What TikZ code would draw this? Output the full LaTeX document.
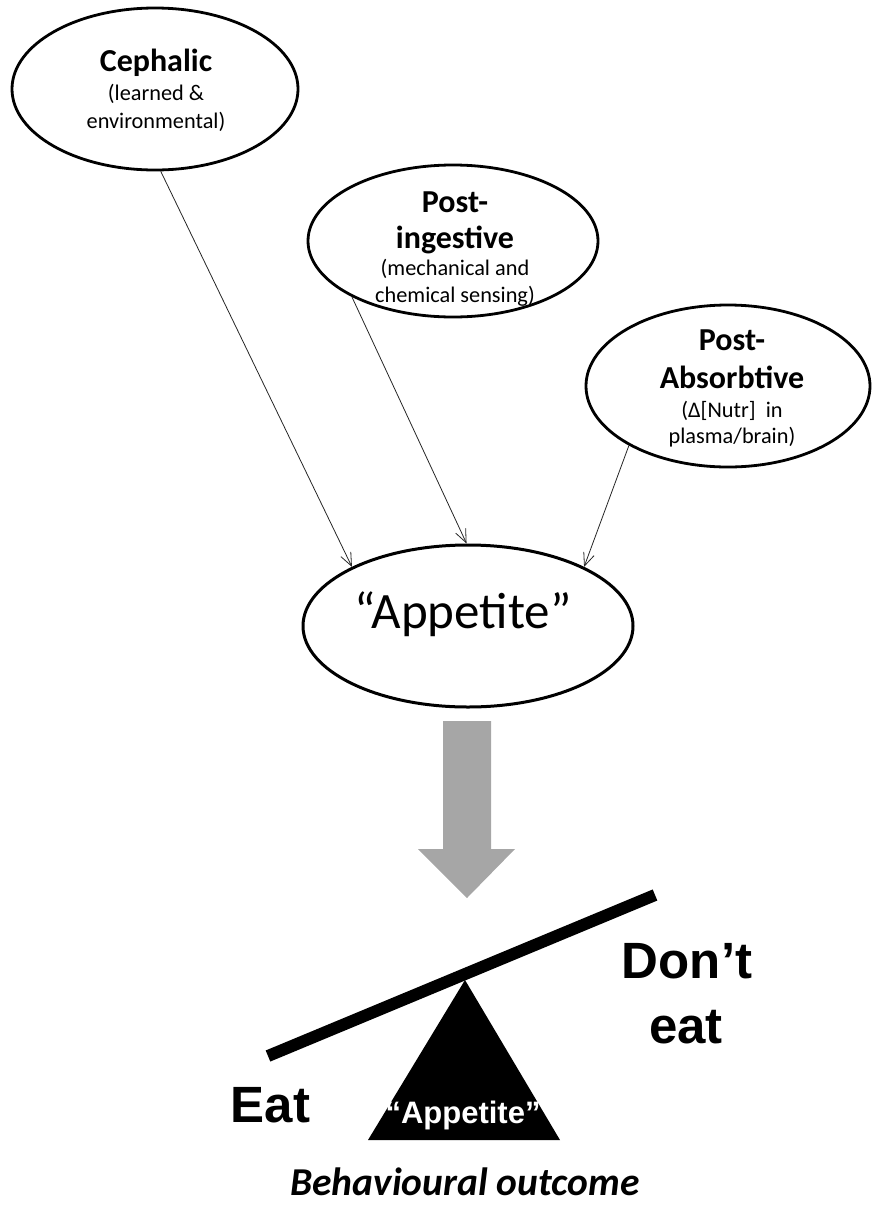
\documentclass[tikz,border=0pt]{standalone}
\usepackage{fontspec}
\setmainfont{Carlito}
\newfontfamily\arialfont{Liberation Sans}
\usetikzlibrary{shapes.geometric,arrows.meta}
\definecolor{arrowgray}{RGB}{166,166,166}
\begin{document}
\begin{tikzpicture}[x=1pt,y=-1pt,
  oval/.style={ellipse,draw,line width=2.8pt,inner sep=0pt},
  link/.style={-{Straight Barb[length=13pt,width=11pt]},line width=0.8pt,draw=black!85},
  head/.style={anchor=base,inner sep=0pt,font=\fontsize{32}{38}\selectfont\bfseries},
  sub/.style={anchor=base,inner sep=0pt,font=\fontsize{22.3}{27}\selectfont},
  big/.style={anchor=base,inner sep=0pt,font=\arialfont\fontsize{51}{60}\selectfont\bfseries}]
\useasboundingbox (0,0) rectangle (873,1205);
% ellipses
\node[oval,minimum width=286pt,minimum height=162pt] (ceph) at (155,89) {};
\node[oval,minimum width=290pt,minimum height=152pt] (ping) at (453,241) {};
\node[oval,minimum width=284pt,minimum height=162pt] (pabs) at (728,386) {};
\node[oval,line width=3pt,minimum width=330pt,minimum height=162pt] (app) at (468,626) {};
% texts
\node[head] (cephT) at (156,71) {Cephalic};
\node[sub] (cephS1) at (156,100) {(learned \&};
\node[sub] (cephS2) at (156,128) {environmental)};
\node[head] (pingT1) at (455,212) {Post-};
\node[head] (pingT2) at (455,248) {ingestive};
\node[sub] (pingS1) at (455,275) {(mechanical and};
\node[sub] (pingS2) at (455,302) {chemical sensing)};
\node[head] (pabsT1) at (732,350) {Post-};
\node[head] (pabsT2) at (732,388) {Absorbtive};
\node[sub] (pabsS1) at (732,417) {(Δ[Nutr]~~in};
\node[sub] (pabsS2) at (732,443) {plasma/brain)};
\node[anchor=base,inner sep=0pt,font=\fontsize{51}{60}\selectfont] (appT) at (463,628) {“Appetite”};
% connectors
\draw[link] (ceph.-86.5) -- (app.153);
\draw[link] (ping.209) -- (app.91);
\draw[link] (pabs.211) -- (app.27.5);
% grey block arrow
\fill[arrowgray] (443,721) -- (491,721) -- (491,849) -- (515,849) -- (467,898) -- (418,849) -- (443,849) -- cycle;
% seesaw
\coordinate (pl) at (268,1056);
\coordinate (pr) at (655,895);
\draw[line width=12pt] (pl) -- (pr);
\fill (465,980) -- (560,1140) -- (368,1140) -- cycle;
\node[anchor=base,inner sep=0pt,text=white,font=\arialfont\fontsize{31}{36}\selectfont\bfseries] (fulc) at (463,1123) {“Appetite”};
\node[big] (eat) at (270.5,1122) {Eat};
\node[big] (dont1) at (687,978) {Don’t};
\node[big] (dont2) at (686,1043) {eat};
\node[anchor=base,inner sep=0pt,font=\fontsize{39.5}{46}\selectfont\bfseries\itshape] (outc) at (465,1195) {Behavioural outcome};
\end{tikzpicture}
\end{document}
